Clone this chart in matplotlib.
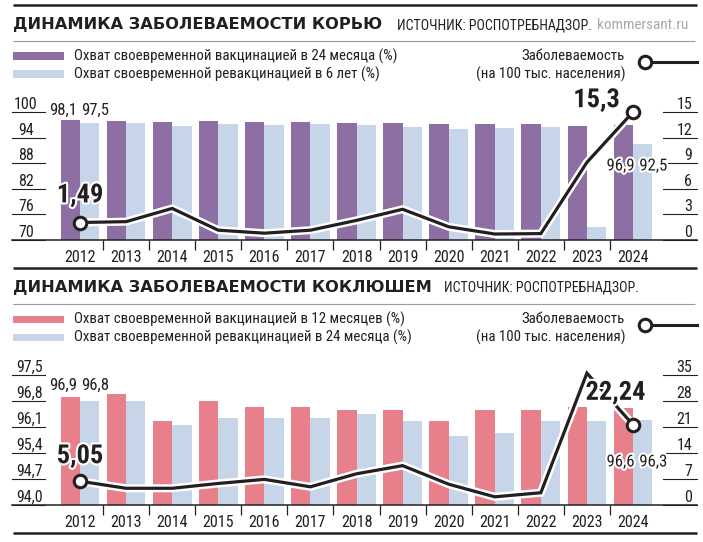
import numpy as np
import matplotlib
matplotlib.use('Agg')
import matplotlib.pyplot as plt
import matplotlib.patheffects as pe
import matplotlib.transforms as mtrans
from matplotlib import font_manager
from matplotlib.lines import Line2D
from matplotlib.patches import Rectangle

# ---- data ----
years = [str(y) for y in range(2012, 2025)]

measles_vacc_24m = [98.1, 97.9, 97.7, 97.8, 97.6, 97.6, 97.5, 97.5, 97.2, 97.2, 97.3, 96.8, 96.9]
measles_revacc_6y = [97.5, 97.4, 96.8, 97.2, 97.0, 97.1, 97.0, 96.6, 96.0, 96.3, 96.4, 73.0, 92.5]
measles_rate = [2.05, 2.15, 3.7, 1.15, 0.8, 1.15, 2.3, 3.6, 1.55, 0.7, 0.75, 9.1, 15.0]
measles_left_ticks = [70, 76, 82, 88, 94, 100]
measles_left_labels = ['70', '76', '82', '88', '94', '100']
measles_right_ticks = [0, 3, 6, 9, 12, 15]
measles_bar_labels = (['98,1', '97,5'], ['96,9', '92,5'])
measles_rate_labels = ['1,49', '15,3']

pertussis_vacc_12m = [96.9, 97.0, 96.25, 96.8, 96.65, 96.65, 96.55, 96.55, 96.25, 96.55, 96.55, 96.65, 96.6]
pertussis_revacc_24m = [96.8, 96.8, 96.15, 96.35, 96.35, 96.35, 96.45, 96.25, 95.85, 95.95, 96.25, 96.25, 96.3]
pertussis_rate = [6.4, 4.5, 4.5, 5.8, 6.9, 4.9, 8.4, 10.6, 5.6, 2.2, 3.3, 35.5, 21.6]
pertussis_left_ticks = [94.0, 94.7, 95.4, 96.1, 96.8, 97.5]
pertussis_left_labels = ['94,0', '94,7', '95,4', '96,1', '96,8', '97,5']
pertussis_right_ticks = [0, 7, 14, 21, 28, 35]
pertussis_bar_labels = (['96,9', '96,8'], ['96,6', '96,3'])
pertussis_rate_labels = ['5,05', '22,24']

# ---- fonts / colours ----
names = {f.name for f in font_manager.fontManager.ttflist}


def pick(*cands):
    for c in cands:
        if c in names:
            return c
    return 'DejaVu Sans'


NARROW = pick('Liberation Sans Narrow', 'Roboto Condensed', 'Liberation Sans')
HEAVY = 'DejaVu Sans'
INK = '#231f20'
PURPLE = '#8e6fa3'
PINK = '#e8808c'
LIGHT = '#c6d6e8'

W, H = 703, 542
fig = plt.figure(figsize=(W / 100, H / 100), dpi=100)
fig.patch.set_facecolor('white')


def fx(p):
    return p / W


def fy(p):
    return 1 - p / H


def hline(y, x0, x1, color, lw):
    fig.add_artist(Line2D([fx(x0), fx(x1)], [fy(y), fy(y)], color=color, lw=lw,
                          transform=fig.transFigure, solid_capstyle='butt'))


def header(y0, title, dark_color, leg1, leg2, src_x, site=None):
    # y0 = top black rule
    hline(y0, 13, 697, INK, 1.8)
    fig.text(fx(13), fy(y0 + 24), title, fontsize=11.7, fontweight='heavy',
             family=HEAVY, color=INK, va='baseline')
    fig.text(fx(src_x), fy(y0 + 24), 'ИСТОЧНИК: РОСПОТРЕБНАДЗОР.', fontsize=10,
             family=NARROW, color=INK, va='baseline')
    if site:
        fig.text(fx(597), fy(y0 + 24), site, fontsize=11, family=NARROW,
                 color='#a9a9a9', va='baseline')
    hline(y0 + 36, 13, 695, '#9a9a9a', 0.8)
    r1, r2 = y0 + 51, y0 + 69
    for r, col, txt in [(r1, dark_color, leg1), (r2, LIGHT, leg2)]:
        fig.add_artist(Rectangle((fx(13), fy(r + 3.5)), 51 / W, 7 / H,
                                 transform=fig.transFigure, color=col, lw=0))
        fig.text(fx(74), fy(r), txt, fontsize=10.7, family=NARROW, color=INK, va='center')
    fig.text(fx(625), fy(r1), 'Заболеваемость', fontsize=10.7, family=NARROW,
             color=INK, va='center', ha='right')
    fig.text(fx(626), fy(r2), '(на 100 тыс. населения)', fontsize=10.7, family=NARROW,
             color=INK, va='center', ha='right')
    ly = y0 + 57
    fig.add_artist(Line2D([fx(645), fx(697)], [fy(ly), fy(ly)], color=INK, lw=2.2,
                          transform=fig.transFigure))
    fig.add_artist(Line2D([fx(645)], [fy(ly)], marker='o', ms=9, mfc='white', mec=INK,
                          mew=2.2, transform=fig.transFigure))


def panel(top_px, bot_px, tick_top_px, dark, light, rate, dark_color,
          lticks, llabels, rticks, lbl_x, bar_lbls, last_lbl_frac, first_lbl_dy,
          rate_lbls, rate_offsets):
    ax = fig.add_axes([fx(12), fy(bot_px), (697 - 12) / W, (bot_px - top_px) / H])
    ax2 = ax.twinx()
    k = (bot_px - top_px) / (bot_px - tick_top_px)
    ax.set_ylim(lticks[0], lticks[0] + (lticks[-1] - lticks[0]) * k)
    ax2.set_ylim(rticks[0], rticks[0] + (rticks[-1] - rticks[0]) * k)
    x = np.arange(len(years))
    ax.set_xlim(-68 / 46.083, 12 + 64 / 46.083)

    ax.bar(x - 0.21, dark, width=0.42, color=dark_color, lw=0, zorder=1)
    ax.bar(x + 0.21, light, width=0.42, color=LIGHT, lw=0, zorder=1)

    for a in (ax, ax2):
        for s in a.spines.values():
            s.set_visible(False)
        a.set_yticks([])
    ax.spines['bottom'].set_visible(True)
    ax.spines['bottom'].set_color(INK)
    ax.spines['bottom'].set_linewidth(1.1)

    ax.set_xticks(x)
    ax.set_xticklabels(years, fontsize=11.5, family=NARROW, color=INK)
    ax.set_xticks(x[:-1] + 0.5, minor=True)
    ax.tick_params(axis='x', which='major', length=0, pad=7)
    ax.tick_params(axis='x', which='minor', length=7, width=0.9, color=INK, direction='out')

    span = 685.0
    tl = mtrans.blended_transform_factory(ax.transAxes, ax.transData)
    for v, lab in zip(lticks, llabels):
        ax.plot([0, 33 / span], [v, v], transform=tl, color=INK, lw=0.8, clip_on=False)
        ax.text((lbl_x - 12) / span, v, lab, transform=tl, ha='center', va='bottom',
                fontsize=11.5, family=NARROW, color=INK)
    tr = mtrans.blended_transform_factory(ax2.transAxes, ax2.transData)
    for v in rticks:
        ax2.plot([(663 - 12) / span, 1], [v, v], transform=tr, color=INK, lw=0.8, clip_on=False)
        ax2.text((692 - 12) / span, v, str(v), transform=tr, ha='right', va='bottom',
                 fontsize=11.5, family=NARROW, color=INK)

    halo = [pe.withStroke(linewidth=3, foreground='white')]
    top0 = max(dark[0], light[0])
    for dx, lab in zip((-0.36, 0.33), bar_lbls[0]):
        ax2.annotate(lab, xy=(dx, top0), xycoords=ax.transData, xytext=(0, first_lbl_dy),
                     textcoords='offset points', ha='center', va='bottom',
                     fontsize=12, family=NARROW, color=INK, zorder=6)
    tb = mtrans.blended_transform_factory(ax.transData, ax.transAxes)
    for xx, lab in zip((12 - 0.27, 12 + 0.44), bar_lbls[1]):
        ax2.text(xx, last_lbl_frac, lab, transform=tb, ha='center', va='center',
                 fontsize=12, family=NARROW, color=INK, path_effects=halo, zorder=6)

    ax2.plot(x, rate, color=INK, lw=2.3, solid_joinstyle='miter', zorder=3,
             path_effects=[pe.Stroke(linewidth=5.8, foreground='white'), pe.Normal()])
    ax2.plot([x[0], x[-1]], [rate[0], rate[-1]], 'o', ms=9, mfc='white', mec=INK,
             mew=2.2, zorder=4)
    for idx, lab, (dx, dy, ha) in zip((0, len(x) - 1), rate_lbls, rate_offsets):
        ax2.annotate(lab, xy=(x[idx], rate[idx]), xytext=(dx, dy), textcoords='offset points',
                     ha=ha, va='center', fontsize=19, fontweight='bold', family=NARROW,
                     color=INK, path_effects=halo, zorder=5)
    return ax, ax2


header(5, 'ДИНАМИКА ЗАБОЛЕВАЕМОСТИ КОРЬЮ', PURPLE,
       'Охват своевременной вакцинацией в 24 месяца (%)',
       'Охват своевременной ревакцинацией в 6 лет (%)', 397, site='kommersant.ru')
panel(95, 240, 112, measles_vacc_24m, measles_revacc_6y, measles_rate, PURPLE,
      measles_left_ticks, measles_left_labels, measles_right_ticks, 26,
      measles_bar_labels, (240 - 166) / 145, 1.5, measles_rate_labels,
      [(0, 19.5, 'center'), (-9.5, 8.5, 'right')])

header(268, 'ДИНАМИКА ЗАБОЛЕВАЕМОСТИ КОКЛЮШЕМ', PINK,
       'Охват своевременной вакцинацией в 12 месяцев (%)',
       'Охват своевременной ревакцинацией в 24 месяца (%)', 444)
panel(360, 505, 375, pertussis_vacc_12m, pertussis_revacc_24m, pertussis_rate, PINK,
      pertussis_left_ticks, pertussis_left_labels, pertussis_right_ticks, 30,
      pertussis_bar_labels, (505 - 462) / 145, 3.5, pertussis_rate_labels,
      [(0, 18, 'center'), (8.6, 23, 'right')])

hline(533, 13, 697, INK, 1.8)

fig.savefig('out.png', dpi=100)
